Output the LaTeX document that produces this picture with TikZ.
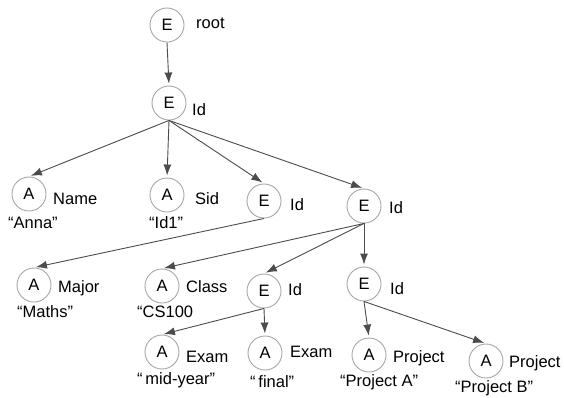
\documentclass[tikz,border=0pt]{standalone}
\usepackage{fontspec}
\setmainfont{Liberation Sans}
\usetikzlibrary{arrows.meta}
\begin{document}
\begin{tikzpicture}[x=1pt,y=-1pt,
  elem/.style={circle,draw=black!35,line width=0.9pt,minimum size=34pt,inner sep=0pt,font=\fontsize{16.5}{18}\selectfont},
  lbl/.style={inner sep=0pt,anchor=base west,font=\fontsize{16.5}{18}\selectfont},
  edge/.style={draw=black!70,line width=0.9pt,shorten >=2pt,-{Latex[length=11pt,width=8pt]}}]
\useasboundingbox (0,0) rectangle (564,397);
\fill[white] (0,0) rectangle (564,397);
% nodes
\node[elem] (root) at (167,25) {E};
\node[elem] (id1) at (169,103) {E};
\node[elem] (name) at (29,194) {A};
\node[elem] (sid) at (167,195) {A};
\node[elem] (id2) at (264,201) {E};
\node[elem] (id3) at (364,206) {E};
\node[elem] (major) at (34,285) {A};
\node[elem] (class) at (162,286) {A};
\node[elem] (id4) at (264,291) {E};
\node[elem] (id5) at (364,284) {E};
\node[elem] (exam1) at (162,352) {A};
\node[elem] (exam2) at (265,353) {A};
\node[elem] (proj1) at (369,355) {A};
\node[elem] (proj2) at (486,361) {A};
% labels
\node[lbl] (lroot) at (196,28) {root};
\node[lbl] (lid1) at (192,115) {Id};
\node[lbl] (lname) at (53,204) {Name};
\node[lbl] (vname) at (8,228) {“Anna”};
\node[lbl] (lsid) at (195,204) {Sid};
\node[lbl] (vsid) at (149,228) {“Id1”};
\node[lbl] (lid2) at (290,210) {Id};
\node[lbl] (lid3) at (389,213) {Id};
\node[lbl] (lmajor) at (58,292) {Major};
\node[lbl] (vmajor) at (17,317) {“Maths”};
\node[lbl] (lclass) at (186,292) {Class};
\node[lbl] (vclass) at (137,317) {“CS100};
\node[lbl] (lid4) at (288,295) {Id};
\node[lbl] (lid5) at (390,294) {Id};
\node[lbl] (lexam1) at (186,362) {Exam};
\node[lbl] (vexam1) at (137,384) {“\,mid-year”};
\node[lbl] (lexam2) at (290,357) {Exam};
\node[lbl] (vexam2) at (250,387) {“\,final”};
\node[lbl] (lproj1) at (393,362) {Project};
\node[lbl] (vproj1) at (340,386) {“Project A”};
\node[lbl] (lproj2) at (509,367) {Project};
\node[lbl] (vproj2) at (455,392) {“Project B”};
% edges
\draw[edge] (root.south) -- (id1.north);
\draw[edge] (id1.south) -- (name.north);
\draw[edge] (id1.south) -- (sid.north);
\draw[edge] (id1.south) -- (id2.north);
\draw[edge] (id1.south) -- (id3.north);
\draw[edge] (id2.south) -- (major.north);
\draw[edge] (id3.south) -- (class.north);
\draw[edge] (id3.south) -- (id4.north);
\draw[edge] (id3.south) -- (id5.north);
\draw[edge] (id4.south) -- (exam1.north);
\draw[edge] (id4.south) -- (exam2.north);
\draw[edge] (id5.south) -- (proj1.north);
\draw[edge] (id5.south) -- (proj2.north);
\end{tikzpicture}
\end{document}
